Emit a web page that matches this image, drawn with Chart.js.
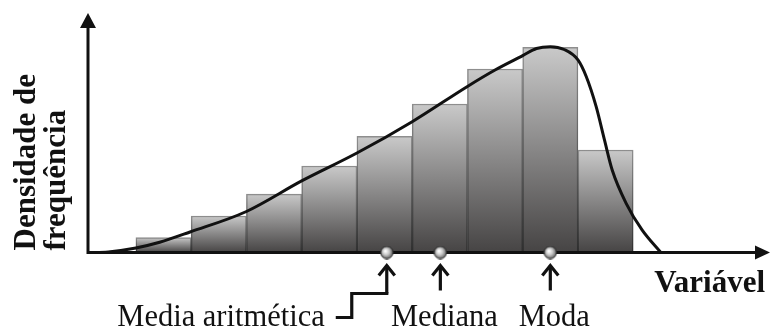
<!DOCTYPE html>
<html>
<head>
<meta charset="utf-8">
<script src="https://cdn.jsdelivr.net/npm/chart.js@4"></script>
<style>
  html, body { margin: 0; padding: 0; background: #ffffff; }
  #wrap { width: 771px; height: 331px; }
</style>
</head>
<body>
<div id="wrap"><canvas id="c" width="771" height="331"></canvas></div>
<script>
// ---- data ----
const binCenters = [0.5, 1.5, 2.5, 3.5, 4.5, 5.5, 6.5, 7.5, 8.5];
const densities  = [0.73, 1.78, 2.85, 4.22, 5.66, 7.24, 8.95, 10.0, 5.0];

const curveX = [-0.87, -0.5, 0.0, 0.43, 0.98, 2.0, 3.0, 4.0, 5.0, 6.0, 6.5, 7.0, 7.25, 7.5, 7.75, 8.0, 8.15, 8.33, 8.48, 8.62, 8.87, 9.16, 9.5];
const curveY = [0.0, 0.03, 0.22, 0.5, 1.0, 2.0, 3.49, 4.85, 6.38, 8.1, 8.9, 9.6, 9.95, 10.04, 9.9, 9.39, 8.58, 7.11, 5.49, 4.02, 2.41, 1.1, 0.0];

const markerLabels = ['Media aritmética', 'Mediana', 'Moda'];
const markerX = [4.54, 5.51, 7.5];

const yAxisTitle = ['Densidade de', 'frequência'];
const xAxisTitle = 'Variável';

// ---- helpers ----
const SERIF = '"Liberation Serif", "Times New Roman", serif';

function makeSphere() {
  const s = document.createElement('canvas');
  s.width = 14; s.height = 14;
  const g = s.getContext('2d');
  const grad = g.createRadialGradient(5.5, 5.5, 0.5, 7, 7, 7);
  grad.addColorStop(0, '#ffffff');
  grad.addColorStop(0.45, '#c4c4c4');
  grad.addColorStop(0.85, '#6a6a6a');
  grad.addColorStop(1, '#333333');
  g.fillStyle = grad;
  g.beginPath(); g.arc(7, 7, 6.2, 0, Math.PI * 2); g.fill();
  g.strokeStyle = '#2a2a2a'; g.lineWidth = 1; g.stroke();
  return s;
}
const sphere = makeSphere();

function barGradient(c, light, dark) {
  const ch = c.chart;
  if (!ch.chartArea || !c.parsed) return dark;
  const ys = ch.scales.y;
  const top = ys.getPixelForValue(c.parsed.y);
  const bot = ys.getPixelForValue(0);
  const g = ch.ctx.createLinearGradient(0, top, 0, bot);
  g.addColorStop(0, light);
  g.addColorStop(1, dark);
  return g;
}

const decorPlugin = {
  id: 'decor',
  afterDatasetDraw(chart, args) {
    if (args.index !== 0) return;
    // axes with arrowheads
    const ctx = chart.ctx;
    const xs = chart.scales.x, ys = chart.scales.y;
    const ox = xs.left, oy = ys.getPixelForValue(0);
    const top = ys.top, right = xs.right;
    ctx.save();
    ctx.strokeStyle = '#111';
    ctx.fillStyle = '#111';
    ctx.lineWidth = 3;
    ctx.beginPath();
    ctx.moveTo(ox, oy + 1.5); ctx.lineTo(ox, top + 12);
    ctx.moveTo(ox - 1.5, oy); ctx.lineTo(right - 12, oy);
    ctx.stroke();
    ctx.beginPath();
    ctx.moveTo(ox, top); ctx.lineTo(ox - 8, top + 15); ctx.lineTo(ox + 8, top + 15); ctx.closePath();
    ctx.fill();
    ctx.beginPath();
    ctx.moveTo(right, oy); ctx.lineTo(right - 15, oy - 7); ctx.lineTo(right - 15, oy + 7); ctx.closePath();
    ctx.fill();
    ctx.restore();
  },
  afterDraw(chart) {
    const ctx = chart.ctx;
    const xs = chart.scales.x, ys = chart.scales.y;
    const oy = ys.getPixelForValue(0);
    ctx.save();
    // y title (rotated, two lines)
    ctx.fillStyle = '#111';
    ctx.font = 'bold 31px ' + SERIF;
    ctx.textAlign = 'left';
    ctx.textBaseline = 'alphabetic';
    ctx.translate(35, oy - 2);
    ctx.rotate(-Math.PI / 2);
    ctx.fillText(yAxisTitle[0], 0, 0);
    ctx.fillText(yAxisTitle[1], 0, 30);
    ctx.restore();

    ctx.save();
    ctx.fillStyle = '#111';
    ctx.font = 'bold 31px ' + SERIF;
    ctx.textAlign = 'right';
    ctx.textBaseline = 'alphabetic';
    ctx.fillText(xAxisTitle, xs.right - 5, oy + 39);

    // marker arrows + labels
    ctx.strokeStyle = '#111';
    ctx.lineWidth = 3.2;
    ctx.font = '30.5px ' + SERIF;
    markerX.forEach((mx, i) => {
      const px = xs.getPixelForValue(mx);
      const tip = oy + 12;
      const shaftEnd = i === 0 ? oy + 41 : oy + 38;
      ctx.beginPath();
      ctx.moveTo(px, tip + 1); ctx.lineTo(px, shaftEnd);
      ctx.stroke();
      ctx.beginPath();
      ctx.moveTo(px - 8, tip + 11); ctx.lineTo(px, tip + 1); ctx.lineTo(px + 8, tip + 11);
      ctx.stroke();
      if (i === 0) {
        ctx.beginPath();
        ctx.moveTo(px + 1.6, shaftEnd);
        ctx.lineTo(px - 35, shaftEnd);
        ctx.lineTo(px - 35, oy + 65);
        ctx.lineTo(px - 51, oy + 65);
        ctx.stroke();
        ctx.textAlign = 'right';
        ctx.fillText(markerLabels[i], px - 62, oy + 73);
      } else {
        ctx.textAlign = 'center';
        ctx.fillText(markerLabels[i], px + 4, oy + 73);
      }
    });
    ctx.restore();
  }
};

const chart = new Chart(document.getElementById('c'), {
  type: 'bar',
  data: {
    datasets: [
      {
        type: 'bar',
        order: 3,
        data: binCenters.map((x, i) => ({ x: x, y: densities[i] })),
        backgroundColor: c => barGradient(c, '#c9c9c9', '#464444'),
        borderColor: c => barGradient(c, '#8e8e8e', '#2e2e2e'),
        borderWidth: 1.5,
        borderSkipped: false,
        barPercentage: 1,
        categoryPercentage: 1
      },
      {
        type: 'line',
        order: 2,
        data: curveX.map((x, i) => ({ x: x, y: curveY[i] })),
        borderColor: '#111',
        borderWidth: 3,
        pointRadius: 0,
        fill: false,
        cubicInterpolationMode: 'monotone',
        clip: false
      },
      {
        type: 'scatter',
        order: 1,
        data: markerX.map(x => ({ x: x, y: 0 })),
        pointStyle: sphere,
        pointRadius: 7,
        clip: false
      }
    ]
  },
  options: {
    responsive: false,
    animation: false,
    devicePixelRatio: 1,
    layout: { autoPadding: false, padding: { left: 88, right: 1, top: 13, bottom: 78.5 } },
    plugins: { legend: { display: false }, tooltip: { enabled: false } },
    scales: {
      x: { type: 'linear', display: false, offset: false, min: -0.867, max: 11.476 },
      y: { type: 'linear', display: false, min: 0, max: 11.68 }
    }
  },
  plugins: [decorPlugin]
});
</script>
</body>
</html>
